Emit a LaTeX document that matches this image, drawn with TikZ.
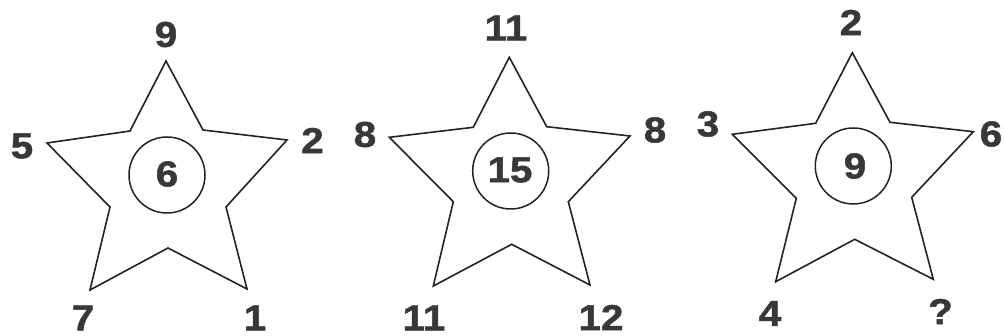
\documentclass[tikz,border=0pt]{standalone}
\usepackage{fontspec}
\newfontfamily\numfont[FakeStretch=1.12,FakeBold=1.4]{Liberation Sans}
\definecolor{ink}{HTML}{222222}
\definecolor{digit}{HTML}{383838}
\begin{document}
\begin{tikzpicture}[x=1pt,y=-1pt,
  starline/.style={draw=ink,line width=1.6pt,line join=miter},
  ring/.style={draw=ink,line width=1.5pt},
  num/.style={inner sep=0pt,text=digit,font=\numfont\bfseries\fontsize{36}{36}\selectfont}]
\useasboundingbox (0,0) rectangle (1004,336);
% star 1
\draw[starline] (166,61) -- (203,130) -- (287,140) -- (226,207) -- (247,289) -- (168,248) -- (90,290) -- (110,207) -- (47,143) -- (130,131) -- cycle;
\draw[ring] (167,175) circle (38);
\node[num] (c1) at (167,174) {6};
\node[num] (t1) at (166,34.5) {9};
\node[num] (l1) at (22,146) {5};
\node[num] (r1) at (312.5,140.5) {2};
\node[num] (bl1) at (83,318) {7};
\node[num] (br1) at (255,318) {1};
% star 2
\draw[starline] (509.3,57.3) -- (546.7,126.7) -- (630,136) -- (568.3,201.7) -- (590,285) -- (511.7,244.3) -- (433.3,286) -- (453.3,201.7) -- (389.3,137.3) -- (473.3,127.3) -- cycle;
\draw[ring] (510.7,171) circle (38);
\node[num] (c2) at (510,170) {15};
\node[num] (t2) at (506,28) {11};
\node[num] (l2) at (365,134.5) {8};
\node[num] (r2) at (655,130) {8};
\node[num] (bl2) at (424,318) {11};
\node[num] (br2) at (601,317.5) {12};
% star 3
\draw[starline] (852.3,52.7) -- (890,122.3) -- (973.3,131.7) -- (911.7,197.3) -- (933.3,279.3) -- (854.7,239.3) -- (775.7,281.7) -- (796.3,198.3) -- (732.3,134.3) -- (815.7,123.3) -- cycle;
\draw[ring] (853.3,166) circle (38);
\node[num] (c3) at (855,166) {9};
\node[num] (t3) at (851,22.5) {2};
\node[num] (l3) at (708,124) {3};
\node[num] (r3) at (991,134) {6};
\node[num] (bl3) at (770,313.5) {4};
\node[num] (br3) at (940.5,311.5) {?};
\end{tikzpicture}
\end{document}
